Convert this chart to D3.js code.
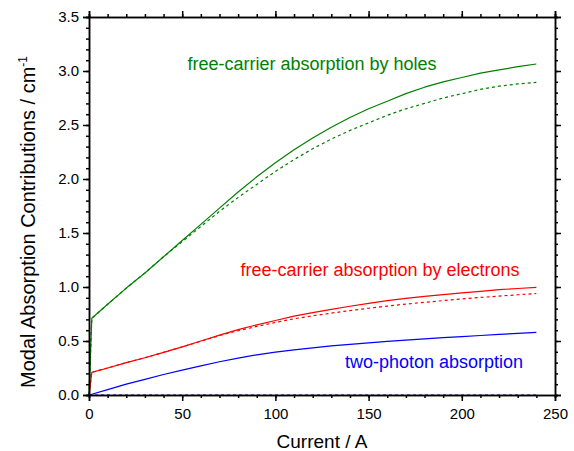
<!DOCTYPE html>
<html>
<head>
<meta charset="utf-8">
<script src="https://cdn.jsdelivr.net/npm/d3@7"></script>
<style>
  body { margin: 0; background: white; }
  text { font-family: "Liberation Sans", Arial, sans-serif; }
</style>
</head>
<body>
<svg width="574" height="451"></svg>
<script>
// current in A
let current = [0, 1.5, 10, 20, 30, 40, 50, 60, 70, 80, 90, 100, 110, 120, 130, 140, 150, 160, 170, 180, 190, 200, 210, 220, 230, 240]

let holes_solid  = [0, 0.71, 0.84, 0.99, 1.13, 1.28, 1.43, 1.58, 1.73, 1.88, 2.02, 2.15, 2.27, 2.38, 2.48, 2.57, 2.65, 2.72, 2.79, 2.85, 2.90, 2.94, 2.98, 3.01, 3.04, 3.065]
let holes_dashed = [0, 0.71, 0.84, 0.99, 1.13, 1.28, 1.42, 1.56, 1.70, 1.83, 1.95, 2.07, 2.18, 2.28, 2.37, 2.45, 2.52, 2.59, 2.65, 2.70, 2.75, 2.79, 2.83, 2.86, 2.88, 2.895]
let elec_solid   = [0, 0.21, 0.25, 0.30, 0.345, 0.395, 0.445, 0.50, 0.555, 0.605, 0.65, 0.69, 0.73, 0.762, 0.793, 0.822, 0.848, 0.873, 0.894, 0.913, 0.93, 0.945, 0.96, 0.975, 0.986, 0.997]
let elec_dashed  = [0, 0.21, 0.25, 0.30, 0.345, 0.395, 0.445, 0.498, 0.55, 0.595, 0.635, 0.672, 0.706, 0.733, 0.758, 0.782, 0.803, 0.823, 0.842, 0.858, 0.874, 0.889, 0.903, 0.916, 0.928, 0.94]
let tpa_solid    = [0, 0.007, 0.05, 0.10, 0.145, 0.19, 0.23, 0.27, 0.308, 0.342, 0.372, 0.397, 0.418, 0.437, 0.454, 0.469, 0.483, 0.496, 0.508, 0.52, 0.531, 0.541, 0.551, 0.561, 0.571, 0.58]
let tpa_dashed   = [0, 0, 0, 0, 0, 0, 0, 0, 0, 0, 0, 0, 0, 0, 0, 0, 0, 0, 0, 0, 0, 0, 0, 0, 0, 0]

let x_ticks = [0, 50, 100, 150, 200, 250]
let y_ticks = [0, 0.5, 1.0, 1.5, 2.0, 2.5, 3.0, 3.5]

let green = "#008000", red = "#ff0000", blue = "#0000ff"

let svg = d3.select("svg")
let m_left = 89, m_right = 555, m_top = 17, m_bottom = 395

let x = d3.scaleLinear().domain([0, 250]).range([m_left, m_right])
let y = d3.scaleLinear().domain([0, 3.5]).range([m_bottom, m_top])

let series = [
  {v: tpa_dashed, c: blue, dash: "3,3"},
  {v: tpa_solid, c: blue},
  {v: elec_dashed, c: red, dash: "3,3"},
  {v: elec_solid, c: red},
  {v: holes_dashed, c: green, dash: "3,3"},
  {v: holes_solid, c: green},
]

let line = d3.line()
  .x((d, i) => x(current[i]))
  .y(d => y(d))

svg.selectAll("path.series")
  .data(series)
  .enter()
  .append("path")
  .attr("class", "series")
  .attr("fill", "none")
  .attr("stroke", d => d.c)
  .attr("stroke-width", 1.2)
  .attr("stroke-linejoin", "round")
  .attr("stroke-dasharray", d => d.dash || null)
  .attr("d", d => line(d.v))

function fmt1(d) { return d.toFixed(1) }

// axes, ticks pointing outward on every side
let minor_x = d3.range(0, 251, 10)
let minor_y = d3.range(0, 36).map(i => i / 10)

svg.append("g").attr("transform", `translate(0,${m_bottom})`)
  .call(d3.axisBottom(x).tickValues(x_ticks).tickSize(6).tickPadding(7).tickFormat(d3.format("d")))
svg.append("g").attr("transform", `translate(0,${m_top})`)
  .call(d3.axisTop(x).tickValues(x_ticks).tickSize(6).tickFormat(""))
svg.append("g").attr("transform", `translate(${m_left},0)`)
  .call(d3.axisLeft(y).tickValues(y_ticks).tickSize(6).tickPadding(4).tickFormat(fmt1))
svg.append("g").attr("transform", `translate(${m_right},0)`)
  .call(d3.axisRight(y).tickValues(y_ticks).tickSize(6).tickFormat(""))

svg.append("g").attr("transform", `translate(0,${m_bottom})`)
  .call(d3.axisBottom(x).tickValues(minor_x).tickSize(3).tickFormat(""))
svg.append("g").attr("transform", `translate(0,${m_top})`)
  .call(d3.axisTop(x).tickValues(minor_x).tickSize(3).tickFormat(""))
svg.append("g").attr("transform", `translate(${m_left},0)`)
  .call(d3.axisLeft(y).tickValues(minor_y).tickSize(3).tickFormat(""))
svg.append("g").attr("transform", `translate(${m_right},0)`)
  .call(d3.axisRight(y).tickValues(minor_y).tickSize(3).tickFormat(""))

svg.selectAll(".domain").attr("stroke", "#000").attr("stroke-width", 1.5)
svg.selectAll(".tick line").attr("stroke", "#000").attr("stroke-width", 1.5)
svg.selectAll(".tick text")
  .attr("font-size", 15)
  .attr("font-family", "Liberation Sans, Arial, sans-serif")
  .attr("fill", "#000")

// titles
svg.append("text")
  .attr("x", (m_left + m_right) / 2)
  .attr("y", 448)
  .attr("text-anchor", "middle")
  .attr("font-size", 19)
  .text("Current / A")

let yt = svg.append("text")
  .attr("transform", "translate(35,222) rotate(-90)")
  .attr("text-anchor", "middle")
  .attr("font-size", 20)
yt.append("tspan").text("Modal Absorption Contributions / cm")
yt.append("tspan").attr("dy", -8).attr("font-size", 12).text("-1")

// curve labels
svg.append("text").attr("x", 312).attr("y", 70).attr("text-anchor", "middle")
  .attr("font-size", 18).attr("fill", green).text("free-carrier absorption by holes")
svg.append("text").attr("x", 380).attr("y", 276).attr("text-anchor", "middle")
  .attr("font-size", 18).attr("fill", red).text("free-carrier absorption by electrons")
svg.append("text").attr("x", 434).attr("y", 368).attr("text-anchor", "middle")
  .attr("font-size", 18).attr("fill", blue).text("two-photon absorption")
</script>
</body>
</html>
